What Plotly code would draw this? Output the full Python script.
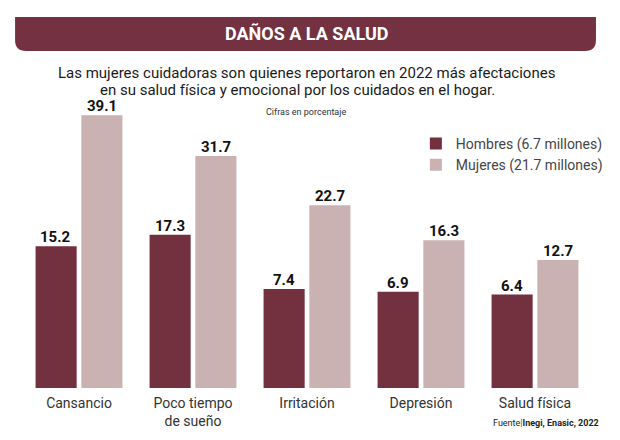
import plotly.graph_objects as go

# ---- data ----
categories = ["Cansancio", "Poco tiempo<br>de sueño", "Irritación", "Depresión", "Salud física"]
hombres = [15.2, 17.3, 7.4, 6.9, 6.4]
mujeres = [39.1, 31.7, 22.7, 16.3, 12.7]
series_names = ["Hombres (6.7 millones)", "Mujeres (21.7 millones)"]
title_text = "DAÑOS A LA SALUD"
subtitle_lines = [
    "Las mujeres cuidadoras son quienes reportaron en 2022 más afectaciones",
    "en su salud física y emocional por los cuidados en el hogar.",
]
units_note = "Cifras en porcentaje"
source_note = "Fuente<span style='color:#733141'>|</span><b>Inegi, Enasic, 2022</b>"

# ---- style / layout ----
W, H = 620, 440
ML, MR, MT, MB = 22, 22, 60, 52
BASE = -10.64   # the graphic's bars start below zero (non-zero baseline)
YMAX = 49.2
BARGAP, GROUPGAP = 0.197, 0.102
C_MEN = "#73303F"
C_WOMEN = "#C9B2B1"
C_BANNER = "#733141"
FONT = "Roboto, sans-serif"
PLOT_W = W - ML - MR


def px(x):
    return (x - ML) / PLOT_W


def py(y):
    return (H - MB - y) / (H - MT - MB)


fig = go.Figure()
series = [(series_names[0], hombres, C_MEN), (series_names[1], mujeres, C_WOMEN)]
for name, vals, col in series:
    fig.add_trace(go.Bar(
        name=name,
        x=categories,
        y=[v - BASE for v in vals],
        base=BASE,
        marker=dict(color=col, line=dict(width=0)),
        hoverinfo="skip",
    ))

# value labels above each bar
slot = PLOT_W / len(categories) * (1 - BARGAP) / 2
annotations = []
for i, (name, vals, col) in enumerate(series):
    shift = (i - 0.5) * slot
    for cat, v in zip(categories, vals):
        annotations.append(dict(
            x=cat, y=v, xref="x", yref="y", text=f"<b>{v}</b>", showarrow=False,
            xanchor="center", yanchor="bottom", xshift=shift, yshift=-2,
            font=dict(family=FONT, size=15, color="#111111"),
        ))

# banner with rounded bottom corners
bx0, bx1, by0, by1, r = 15, 602, 17, 51, 11
x0, x1 = px(bx0), px(bx1)
yt, yb = py(by0), py(by1)
rx = r / PLOT_W
ry = r / (H - MT - MB)
path = (f"M{x0},{yt} L{x1},{yt} L{x1},{yb + ry} Q{x1},{yb} {x1 - rx},{yb} "
        f"L{x0 + rx},{yb} Q{x0},{yb} {x0},{yb + ry} Z")

annotations += [
    dict(text=f"<b>{title_text}</b>", x=px(310), y=py(34), xref="paper", yref="paper",
         showarrow=False, xanchor="center", yanchor="middle",
         font=dict(family=FONT, size=18, color="white")),
    dict(text=subtitle_lines[0], x=px(309), y=py(73), xref="paper", yref="paper",
         showarrow=False, xanchor="center", yanchor="middle",
         font=dict(family=FONT, size=15, color="#1a1a1a")),
    dict(text=subtitle_lines[1], x=px(300), y=py(90), xref="paper", yref="paper",
         showarrow=False, xanchor="center", yanchor="middle",
         font=dict(family=FONT, size=15, color="#1a1a1a")),
    dict(text=units_note, x=px(309), y=py(112), xref="paper", yref="paper",
         showarrow=False, xanchor="center", yanchor="middle",
         font=dict(family=FONT, size=9, color="#333333")),
    dict(text=source_note, x=px(607), y=py(423), xref="paper", yref="paper",
         showarrow=False, xanchor="right", yanchor="middle",
         font=dict(family=FONT, size=9, color="#222222")),
]

fig.update_layout(
    width=W, height=H,
    margin=dict(l=ML, r=MR, t=MT, b=MB),
    paper_bgcolor="white", plot_bgcolor="white",
    barmode="group", bargap=BARGAP, bargroupgap=GROUPGAP,
    font=dict(family=FONT, color="#333333"),
    showlegend=True,
    legend=dict(
        x=px(420), y=py(128), xanchor="left", yanchor="top",
        font=dict(family=FONT, size=14, color="#444444"),
        bgcolor="rgba(0,0,0,0)", traceorder="normal",
        itemclick=False, itemdoubleclick=False,
    ),
    xaxis=dict(showline=False, showgrid=False, zeroline=False, ticks="",
               tickfont=dict(family=FONT, size=14, color="#333333"),
               ticklabelstandoff=5, fixedrange=True),
    yaxis=dict(visible=False, range=[BASE, YMAX], fixedrange=True),
    shapes=[dict(type="path", xref="paper", yref="paper", path=path,
                 fillcolor=C_BANNER, line=dict(width=0), layer="below")],
    annotations=annotations,
)

fig.write_html("out.html", config={"displayModeBar": False},
               post_script="document.body.style.margin='0';")
